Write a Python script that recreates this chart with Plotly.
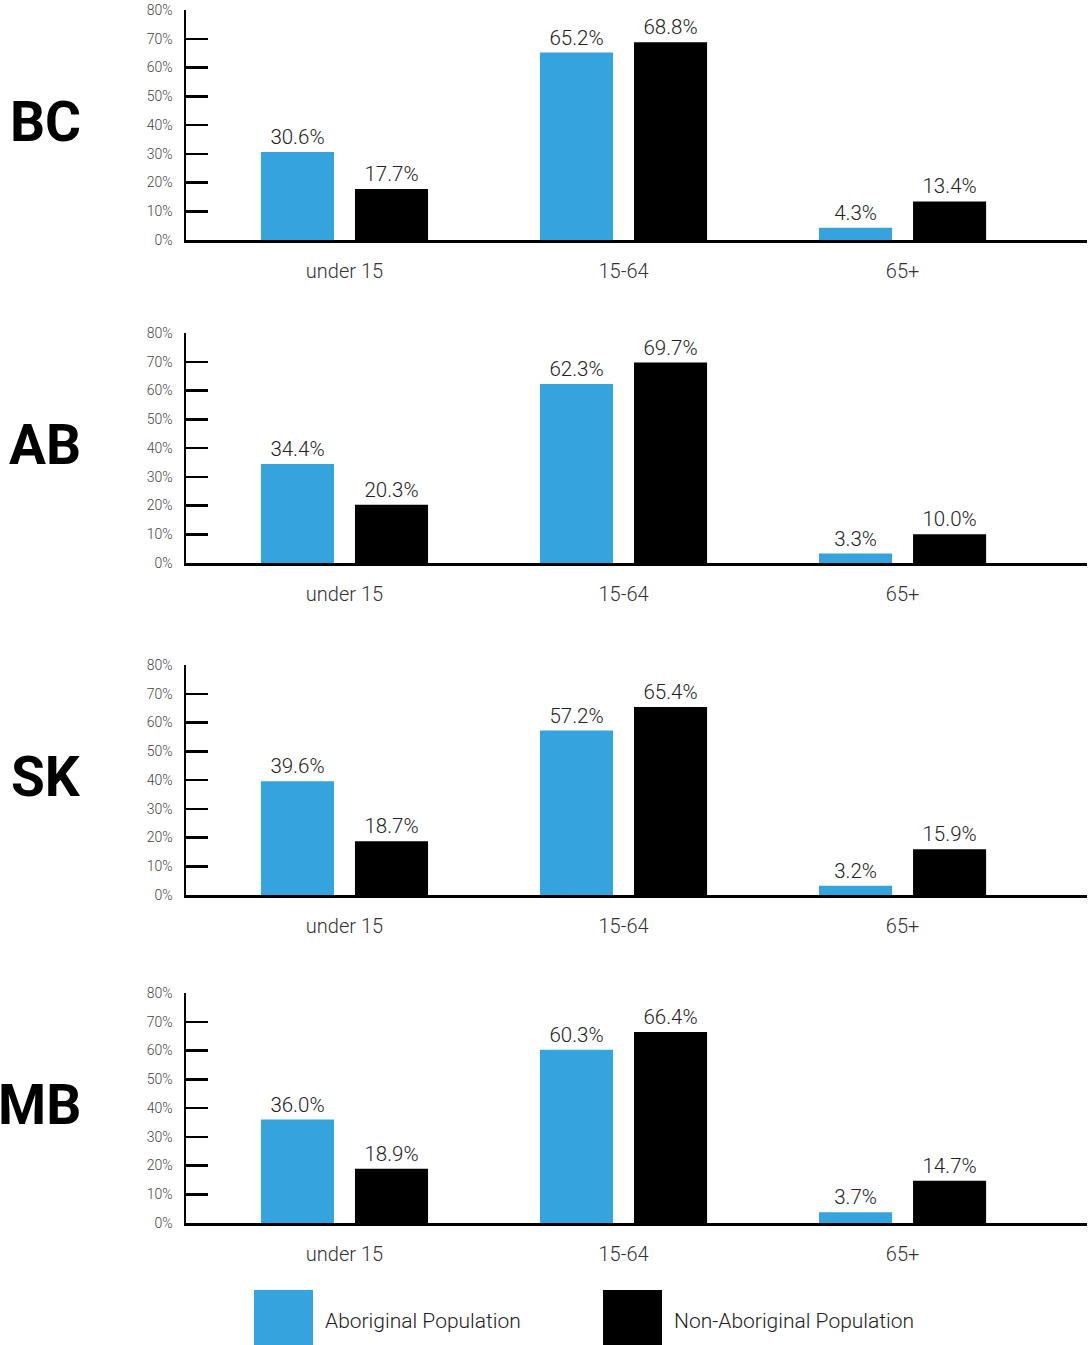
import plotly.graph_objects as go

categories = ["under 15", "15-64", "65+"]
provinces = ["BC", "AB", "SK", "MB"]
aboriginal = {
    "BC": [30.6, 65.2, 4.3],
    "AB": [34.4, 62.3, 3.3],
    "SK": [39.6, 57.2, 3.2],
    "MB": [36.0, 60.3, 3.7],
}
non_aboriginal = {
    "BC": [17.7, 68.8, 13.4],
    "AB": [20.3, 69.7, 10.0],
    "SK": [18.7, 65.4, 15.9],
    "MB": [18.9, 66.4, 14.7],
}
y_ticks = [0, 10, 20, 30, 40, 50, 60, 70, 80]
y_tick_text = ["0%", "10%", "20%", "30%", "40%", "50%", "60%", "70%", "80%"]

W, H = 1090, 1345
BLUE = "#35A3DD"
BLACK = "#000000"
FONT = "Roboto"

# pixel positions of each panel (top of 80% tick, baseline)
panels_px = [(10, 240), (333, 563), (665, 895), (993, 1223)]
x0_px, x1_px = 186, 1087

fig = go.Figure()
layout = {}
annotations = []
for i, prov in enumerate(provinces):
    n = "" if i == 0 else str(i + 1)
    xa = "x" + n
    ya = "y" + n
    for vals, color, name in [(aboriginal[prov], BLUE, "Aboriginal Population"),
                              (non_aboriginal[prov], BLACK, "Non-Aboriginal Population")]:
        fig.add_trace(go.Bar(
            x=categories, y=vals, name=name,
            marker=dict(color=color, line=dict(width=0)), xaxis=xa, yaxis=ya,
            texttemplate="%{y:.1f}%", textposition="outside", cliponaxis=False,
            textfont=dict(size=20.5, color="#222", family=FONT, weight=300),
            showlegend=False, hoverinfo="skip",
        ))
    top, bot = panels_px[i]
    layout["xaxis" + n] = dict(
        domain=[x0_px / W, x1_px / W], anchor=ya, type="category",
        range=[-0.568, 2.661], showline=True, linecolor="black", linewidth=2.5,
        ticks="", showgrid=False, zeroline=False, automargin=False,
        tickfont=dict(size=20, color="#333", family=FONT, weight=300),
        ticklabelstandoff=11, fixedrange=True,
    )
    layout["yaxis" + n] = dict(
        domain=[1 - bot / H, 1 - top / H], anchor=xa, range=[0, 80],
        tickmode="array", tickvals=y_ticks, ticktext=y_tick_text,
        ticks="inside", ticklen=22, automargin=False,
        tickwidth=2.5, tickcolor="black", showline=True, linecolor="black",
        linewidth=2.5, showgrid=False, zeroline=False,
        tickfont=dict(size=14, color="#444", family=FONT, weight=300),
        ticklabelstandoff=8, fixedrange=True,
    )
    annotations.append(dict(
        text="<b>%s</b>" % prov, xref="paper", yref="paper",
        x=83 / W, y=1 - (bot - 41 * (bot - top) / 80) / H,
        xanchor="right", yanchor="middle", showarrow=False,
        font=dict(size=55, color="black", family=FONT),
    ))

shapes = []
legend_items = [("Aboriginal Population", BLUE, 254), ("Non-Aboriginal Population", BLACK, 603)]
for label, color, xpx in legend_items:
    shapes.append(dict(type="rect", xref="paper", yref="paper",
                       x0=xpx / W, x1=(xpx + 59) / W, y0=0, y1=55 / H,
                       fillcolor=color, line=dict(width=0)))
    annotations.append(dict(text=label, xref="paper", yref="paper",
                            x=(xpx + 69) / W, y=1 - 1321 / H,
                            xanchor="left", yanchor="middle", showarrow=False,
                            font=dict(size=21, color="#222", family=FONT, weight=300)))

fig.update_layout(
    template="none",
    width=W, height=H, margin=dict(l=0, r=0, t=0, b=0, autoexpand=False),
    paper_bgcolor="white", plot_bgcolor="white",
    barmode="group", bargap=0.326, bargroupgap=0.223,
    annotations=annotations, shapes=shapes, showlegend=False,
    font=dict(family=FONT),
    **layout,
)
fig.write_html(
    "out.html",
    config={"displayModeBar": False, "staticPlot": True},
    post_script="document.body.style.margin='0';document.body.style.overflow='hidden';",
)
